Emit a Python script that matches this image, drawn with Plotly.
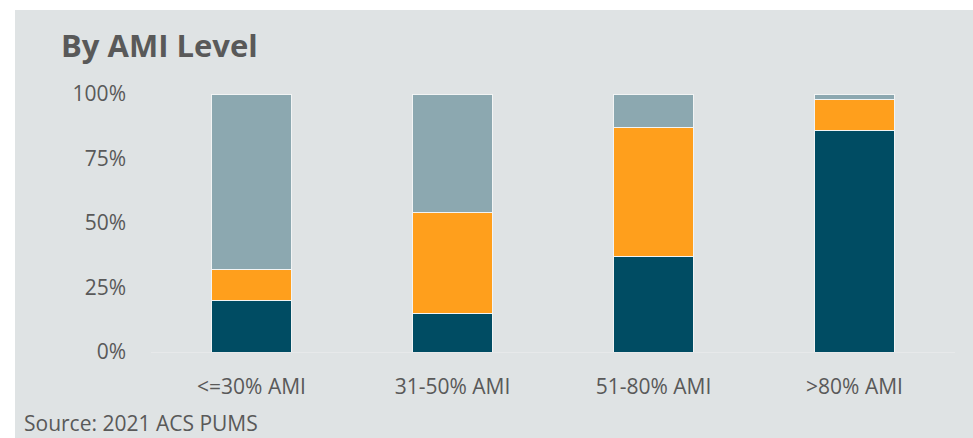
import plotly.graph_objects as go

# Categories and stacked shares (percent of households)
categories = ["<=30% AMI", "31-50% AMI", "51-80% AMI", ">80% AMI"]
bottom_share = [20, 15, 37, 86]
middle_share = [12, 39, 50, 12]
top_share = [68, 46, 13, 2]

y_ticks = [0, 25, 50, 75, 100]
y_tick_labels = ["0%", "25%", "50%", "75%", "100%"]

TEAL = "#004c63"
ORANGE = "#ff9f1c"
SLATE = "#8ca8b0"
PANEL = "#dfe3e4"
TEXT = "#595959"
FONT = "Open Sans"

W, H = 973, 438
L, R, T, B = 151, 18, 94, 86
plot_w = W - L - R
plot_h = H - T - B


def px_x(px):
    return (px - L) / plot_w


def px_y(py):
    return (H - B - py) / plot_h


fig = go.Figure()
for name, vals, color in [
    ("Bottom", bottom_share, TEAL),
    ("Middle", middle_share, ORANGE),
    ("Top", top_share, SLATE),
]:
    fig.add_trace(go.Bar(
        x=categories, y=vals, name=name,
        marker=dict(color=color, line=dict(color="#f2f4f4", width=1)),
        hoverinfo="x+y",
    ))

fig.update_layout(
    width=W, height=H,
    margin=dict(l=L, r=R, t=T, b=B),
    barmode="stack", bargap=0.6,
    paper_bgcolor="white",
    plot_bgcolor="rgba(0,0,0,0)",
    showlegend=False,
    font=dict(family=FONT, color=TEXT, size=21),
    shapes=[dict(
        type="rect", xref="paper", yref="paper", layer="below",
        x0=px_x(15), x1=px_x(973), y0=px_y(438), y1=px_y(10),
        fillcolor=PANEL, line=dict(width=0),
    )],
    annotations=[
        dict(text="By AMI Level", xref="paper", yref="paper",
             x=px_x(59), y=px_y(45), xanchor="left", yanchor="middle",
             showarrow=False, font=dict(size=31, color=TEXT, family=FONT, weight="bold")),
        dict(text="Source: 2021 ACS PUMS", xref="paper", yref="paper",
             x=px_x(23), y=px_y(438), xanchor="left", yanchor="bottom",
             borderpad=0, showarrow=False,
             font=dict(size=21, color=TEXT, family=FONT)),
    ],
)

fig.update_xaxes(
    showgrid=False, zeroline=False,
    showline=True, linecolor="#e7e9ea", linewidth=1,
    ticks="", ticklabelstandoff=16,
    tickfont=dict(size=21, color=TEXT),
)
fig.update_yaxes(
    range=[0, 100], showgrid=False, zeroline=False, showline=False,
    tickvals=y_ticks, ticktext=y_tick_labels,
    ticks="", ticklabelstandoff=24,
    tickfont=dict(size=21, color=TEXT),
)

fig.write_html("out.html")
